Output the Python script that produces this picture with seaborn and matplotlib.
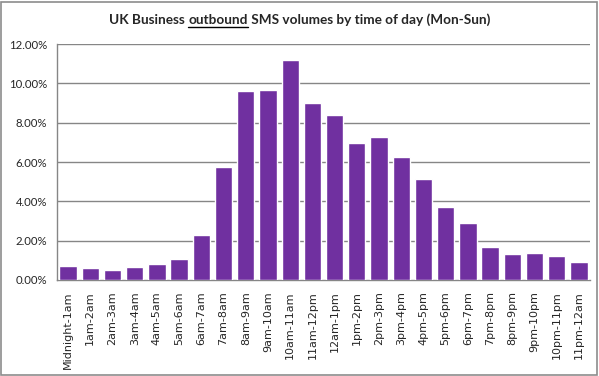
import numpy as np
import pandas as pd
import seaborn as sns
import matplotlib.pyplot as plt
from matplotlib.patches import Rectangle
from matplotlib.lines import Line2D

# hourly share of outbound SMS
hours = ["Midnight-1am", "1am-2am", "2am-3am", "3am-4am", "4am-5am", "5am-6am",
         "6am-7am", "7am-8am", "8am-9am", "9am-10am", "10am-11am", "11am-12pm",
         "12am-1pm", "1pm-2pm", "2pm-3pm", "3pm-4pm", "4pm-5pm", "5pm-6pm",
         "6pm-7pm", "7pm-8pm", "8pm-9pm", "9pm-10pm", "10pm-11pm", "11pm-12am"]
share = [0.71, 0.61, 0.51, 0.66, 0.81, 1.07,
         2.29, 5.75, 9.60, 9.66, 11.18, 9.00,
         8.39, 6.96, 7.27, 6.25, 5.13, 3.71,
         2.90, 1.68, 1.32, 1.37, 1.22, 0.92]
yticks = [0, 2, 4, 6, 8, 10, 12]

df = pd.DataFrame({"hour": hours, "share": share})

sns.set_style("white")
plt.rcParams["font.family"] = ["DejaVu Sans"]

W, H = 599, 376
fig = plt.figure(figsize=(W / 100, H / 100), dpi=100)
ax = fig.add_axes([57 / W, 96 / H, 533 / W, 236 / H])

sns.barplot(data=df, x="hour", y="share", color="#7030A0", saturation=1,
            width=0.78, ax=ax, zorder=3)

grid_c = "#868686"
ax.set_ylim(0, 12)
ax.set_xlim(-0.5, len(hours) - 0.5)
ax.set_yticks(yticks)
ax.set_yticklabels([f"{v:.2f}%" for v in yticks], fontsize=8.2, family="Lato")
for v in yticks[1:]:
    ax.axhline(v, color=grid_c, lw=1, zorder=1)

ax.set_xticks(range(len(hours)))
ax.set_xticklabels(hours, rotation=90, fontsize=8, family="DejaVu Sans")
ax.set_xticks(np.arange(-0.5, len(hours), 1), minor=True)
ax.tick_params(axis="x", which="major", length=0, pad=8)
ax.tick_params(axis="x", which="minor", length=5, color=grid_c, direction="out")
ax.tick_params(axis="y", length=4, color=grid_c, direction="out", pad=3)
ax.set_xlabel("")
ax.set_ylabel("")

for side in ["top", "right"]:
    ax.spines[side].set_visible(False)
for side in ["left", "bottom"]:
    ax.spines[side].set_color(grid_c)
    ax.spines[side].set_linewidth(1)

# chart border
fig.patches.append(Rectangle((0.002, 0.003), 0.995, 0.993, transform=fig.transFigure,
                             fill=False, edgecolor="#8c8c8c", lw=1.2))

# title with underlined word
fig.canvas.draw()
r = fig.canvas.get_renderer()
parts = ["UK Business ", "outbound", " SMS volumes by time of day (Mon-Sun)"]
texts = [fig.text(0, 0, p, fontsize=9.8, fontweight="bold", family="Lato", va="baseline")
         for p in parts]
widths = [t.get_window_extent(r).width for t in texts]
x = (W - sum(widths)) / 2
ybase = H - 24
for t, w in zip(texts, widths):
    t.set_position((x / W, ybase / H))
    if t.get_text() == "outbound":
        fig.add_artist(Line2D([x / W, (x + w) / W], [(ybase - 2.5) / H] * 2,
                              transform=fig.transFigure, color="black", lw=1))
    x += w

fig.savefig("out.png", dpi=100)
